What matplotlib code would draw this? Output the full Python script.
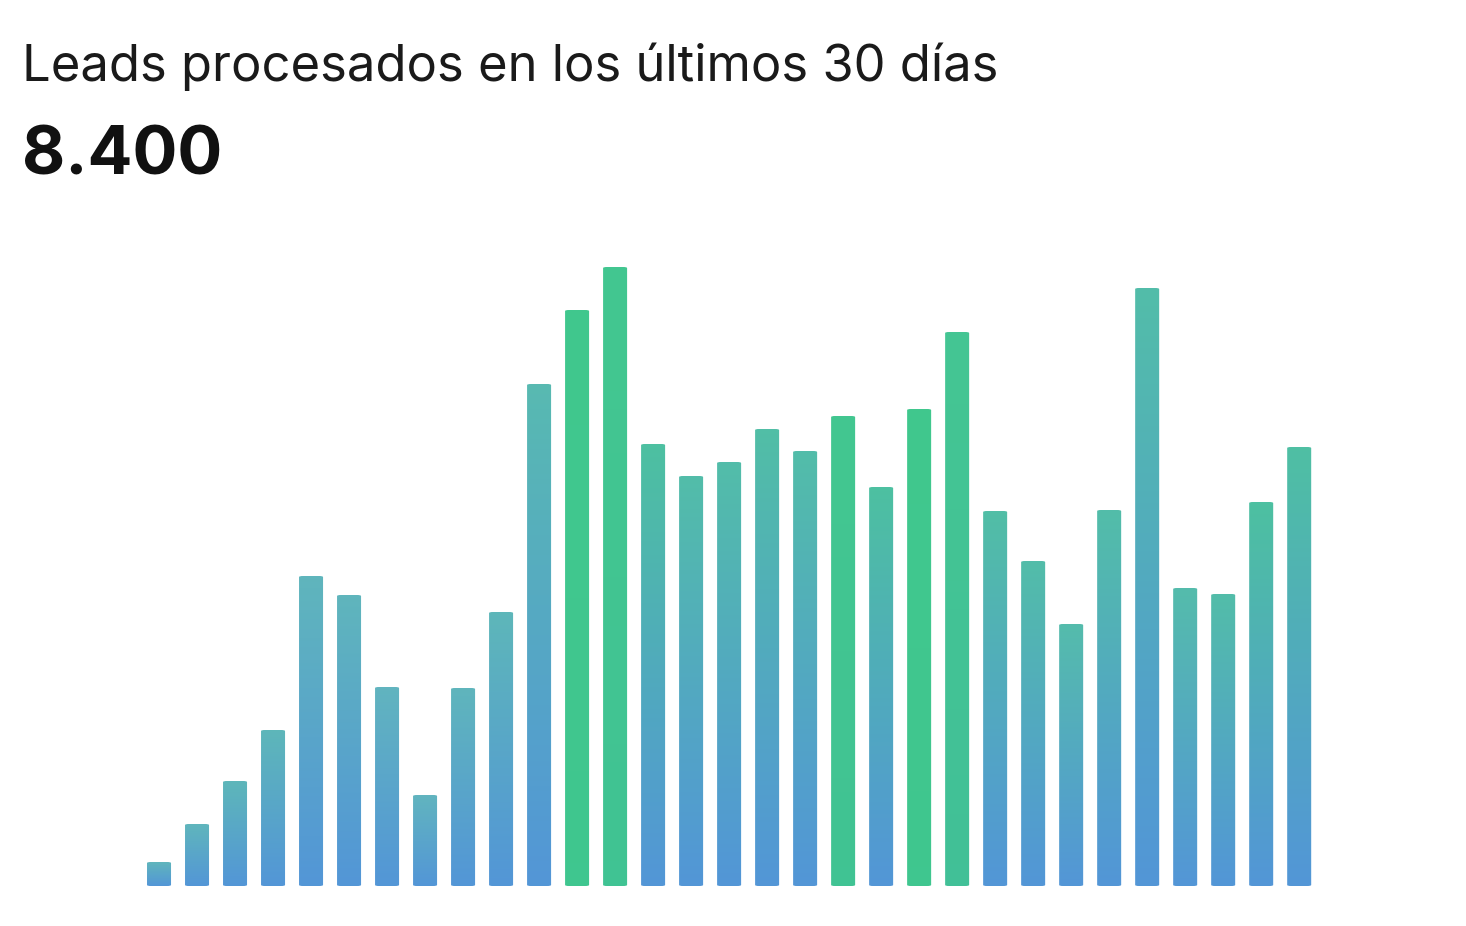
import matplotlib
matplotlib.use("Agg")
import matplotlib.pyplot as plt
import numpy as np
from matplotlib.patches import FancyBboxPatch
from matplotlib.colors import to_rgb

title = "Leads procesados en los últimos 30 días"
total = "8.400"

# leads por día (valores estimados a partir de la imagen)
leads = [24, 62, 105, 156, 310, 291, 199, 91, 198, 274, 502, 576, 619, 442, 410, 424,
         457, 435, 470, 399, 477, 554, 375, 325, 262, 376, 598, 298, 292, 384, 439]
# tono de cada barra: 0 = azul, 1 = verde
green = [0.1, 0.1, 0.15, 0.15, 0.1, 0.1, 0.05, 0.05, 0.1, 0.15, 0.3, 0.95, 0.9, 0.6, 0.45, 0.45,
         0.5, 0.45, 0.9, 0.6, 0.95, 0.85, 0.5, 0.45, 0.4, 0.45, 0.45, 0.4, 0.45, 0.6, 0.55]

blue = np.array(to_rgb("#4f8fdc"))
teal = np.array(to_rgb("#63b3c2"))
grn = np.array(to_rgb("#3fc98b"))

fig = plt.figure(figsize=(14.66, 9.26), dpi=100)
fig.patch.set_facecolor("white")
ax = fig.add_axes([100 / 1466, 40 / 926, 1260 / 1466, 646 / 926])
ax.set_xlim(-1.553, 31.6)
ax.set_ylim(0, 646)
ax.axis("off")

width = 24 / 38
for i, (h, g) in enumerate(zip(leads, green)):
    top_c = teal * (1 - g) + grn * g
    bot_c = blue * (1 - g) + grn * g if g > 0.8 else blue * 0.8 + teal * 0.2
    t = np.linspace(0, 1, 100)[:, None]
    grad = bot_c * (1 - t) + top_c * t
    img = ax.imshow(grad[:, None, :].repeat(2, axis=1), origin="lower", aspect="auto",
                    extent=(i - width / 2, i + width / 2, 0, h), zorder=2)
    clip = FancyBboxPatch((i - width / 2, 0), width, h,
                          boxstyle="round,pad=0,rounding_size=0.1",
                          mutation_aspect=10, transform=ax.transData,
                          facecolor="none", edgecolor="none")
    ax.add_patch(clip)
    img.set_clip_path(clip)

fig.text(22 / 1466, 1 - 67 / 926, title, fontsize=36.5, family=["Inter", "DejaVu Sans"],
         color="#1a1a1a", va="center", ha="left")
fig.text(22 / 1466, 1 - 157 / 926, total, fontsize=48, fontweight="bold",
         family=["Inter", "DejaVu Sans"], color="#111111", va="center", ha="left")

fig.savefig("out.png", dpi=100, facecolor="white")
